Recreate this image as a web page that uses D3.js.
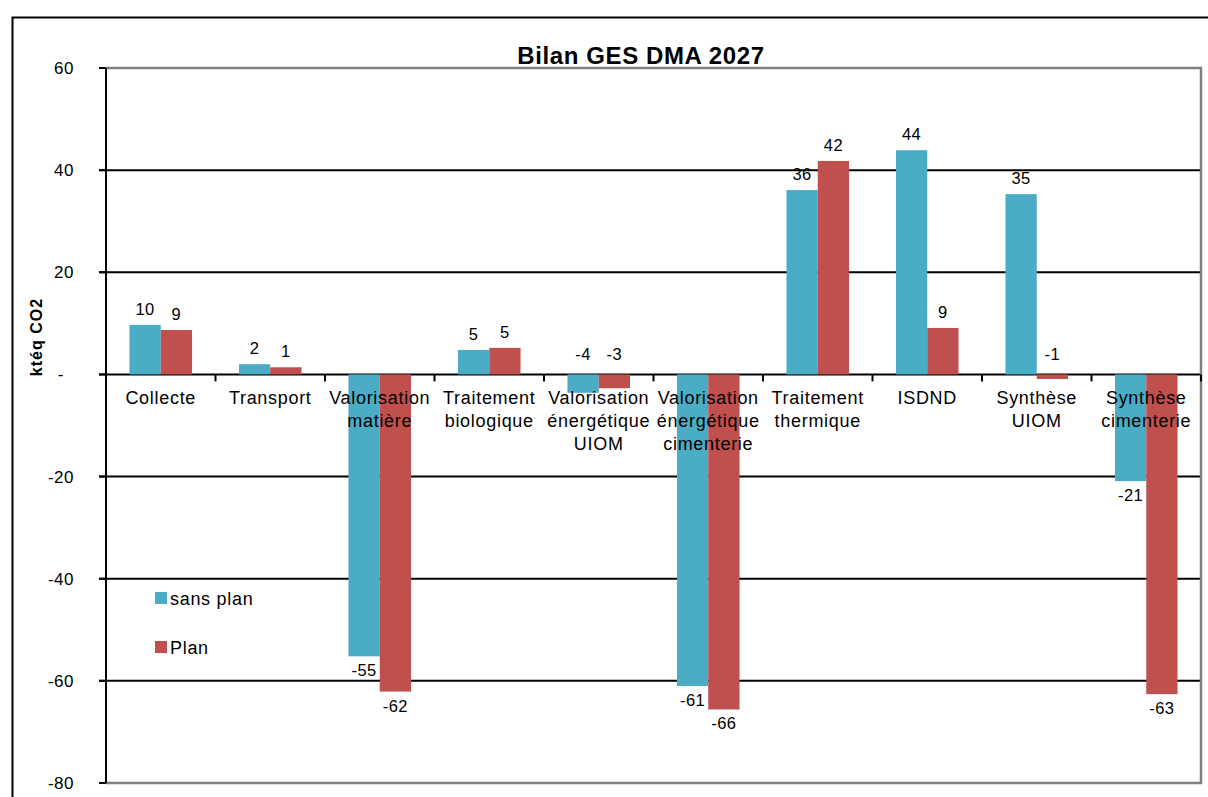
<!DOCTYPE html>
<html>
<head>
<meta charset="utf-8">
<script src="https://cdn.jsdelivr.net/npm/d3@7"></script>
<style>
  body { margin: 0; background: #fff; }
  svg { display: block; font-family: "Liberation Sans", Arial, sans-serif; }
</style>
</head>
<body>
<svg id="chart" width="1208" height="797"></svg>
<script>
// categories (multi-line labels)
const categories = [
  ['Collecte'],
  ['Transport'],
  ['Valorisation', 'matière'],
  ['Traitement', 'biologique'],
  ['Valorisation', 'énergétique', 'UIOM'],
  ['Valorisation', 'énergétique', 'cimenterie'],
  ['Traitement', 'thermique'],
  ['ISDND'],
  ['Synthèse', 'UIOM'],
  ['Synthèse', 'cimenterie']
];
const sansPlan = [9.7, 2.0, -55.2, 4.8, -3.6, -61.0, 36.1, 43.9, 35.3, -20.9];
const plan = [8.7, 1.4, -62.1, 5.2, -2.7, -65.6, 41.8, 9.1, -0.9, -62.6];
const seriesNames = ['sans plan', 'Plan'];
const seriesColors = ['#4BACC6', '#C0504D'];
const yTicks = [60, 40, 20, 0, -20, -40, -60, -80];

const svg = d3.select('#chart');
const plot = {left: 106, right: 1201, top: 68, bottom: 783};

// outer frame
svg.append('rect')
  .attr('x', 12.5).attr('y', 17.5)
  .attr('width', 1300).attr('height', 900)
  .style('fill', 'none')
  .style('stroke', '#000')
  .style('stroke-width', 2);

const y = d3.scaleLinear().domain([-80, 60]).range([plot.bottom, plot.top]);
const x0 = d3.scaleBand().domain(d3.range(categories.length))
  .range([plot.left, plot.right]).paddingInner(0).paddingOuter(0);
// gap width 150% -> bars take 2/3.5 of the band
const barW = x0.bandwidth() / 3.5;
const groupOffset = x0.bandwidth() * 0.75 / 3.5;

// grid lines
svg.append('g')
  .selectAll('line')
  .data(yTicks.filter(d => d > -80 && d < 60))
  .join('line')
  .attr('x1', plot.left - 7).attr('x2', plot.right)
  .attr('y1', d => y(d)).attr('y2', d => y(d))
  .style('stroke', '#000').style('stroke-width', 2);

// plot border top / right / bottom (gray)
svg.append('path')
  .attr('d', `M${plot.left},${y(60)}H${plot.right}V${y(-80)}H${plot.left}`)
  .style('fill', 'none').style('stroke', '#808080').style('stroke-width', 2.5);

// bars
const series = [sansPlan, plan];
series.forEach((vals, s) => {
  svg.append('g')
    .selectAll('rect')
    .data(vals)
    .join('rect')
    .attr('x', (d, i) => x0(i) + groupOffset + s * barW)
    .attr('y', d => y(Math.max(0, d)))
    .attr('width', barW)
    .attr('height', d => Math.abs(y(d) - y(0)))
    .style('fill', seriesColors[s]);
});

// y axis line and ticks
svg.append('line')
  .attr('x1', plot.left).attr('x2', plot.left)
  .attr('y1', y(60)).attr('y2', y(-80))
  .style('stroke', '#000').style('stroke-width', 2);

svg.append('g')
  .selectAll('line')
  .data(yTicks)
  .join('line')
  .attr('x1', plot.left - 7).attr('x2', plot.left)
  .attr('y1', d => y(d)).attr('y2', d => y(d))
  .style('stroke', '#000').style('stroke-width', 2);

svg.append('g')
  .selectAll('text')
  .data(yTicks)
  .join('text')
  .attr('x', d => d === 0 ? 64 : 74)
  .attr('y', d => y(d) + 6)
  .style('text-anchor', 'end')
  .style('font-size', '17px')
  .style('letter-spacing', '0.5px')
  .text(d => d === 0 ? '-' : d);

// x axis (zero line) ticks
svg.append('g')
  .selectAll('line')
  .data(d3.range(categories.length + 1))
  .join('line')
  .attr('x1', i => plot.left + i * x0.bandwidth())
  .attr('x2', i => plot.left + i * x0.bandwidth())
  .attr('y1', y(0)).attr('y2', y(0) + 7)
  .style('stroke', '#000').style('stroke-width', 2);

// category labels
const catG = svg.append('g')
  .selectAll('text')
  .data(categories)
  .join('text')
  .attr('x', (d, i) => x0(i) + x0.bandwidth() / 2)
  .attr('y', y(0) + 30)
  .style('text-anchor', 'middle')
  .style('font-size', '18px')
  .style('letter-spacing', '0.7px');
catG.selectAll('tspan')
  .data(d => d)
  .join('tspan')
  .attr('x', function() { return d3.select(this.parentNode).attr('x'); })
  .attr('dy', (d, i) => i === 0 ? 0 : 23)
  .text(d => d);

// value labels: above bar top for positives, below for large negatives,
// above the zero line for small negatives
series.forEach((vals, s) => {
  svg.append('g')
    .selectAll('text')
    .data(vals)
    .join('text')
    .attr('x', (d, i) => x0(i) + groupOffset + s * barW + barW / 2)
    .attr('y', d => d >= 0 ? y(d) - 10 : (d > -10 ? y(0) - 14 : y(d) + 20))
    .style('text-anchor', 'middle')
    .style('font-size', '16.5px')
    .style('letter-spacing', '0.5px')
    .style('fill', '#000')
    .text(d => Math.round(d));
});

// title
svg.append('text')
  .attr('x', 641).attr('y', 64)
  .style('text-anchor', 'middle')
  .style('font-size', '24px')
  .style('font-weight', 'bold')
  .style('letter-spacing', '0.6px')
  .text('Bilan GES DMA 2027');

// y axis title
svg.append('text')
  .attr('transform', 'translate(42, 337) rotate(-90)')
  .style('text-anchor', 'middle')
  .style('font-size', '16px')
  .style('font-weight', 'bold')
  .style('letter-spacing', '1px')
  .text('ktéq CO2');

// legend
const legend = svg.append('g')
  .selectAll('g')
  .data(seriesNames)
  .join('g')
  .attr('transform', (d, i) => `translate(155, ${592 + i * 49})`);
legend.append('rect')
  .attr('width', 12).attr('height', 12)
  .style('fill', (d, i) => seriesColors[i]);
legend.append('text')
  .attr('x', 15).attr('y', 13)
  .style('font-size', '18px')
  .style('letter-spacing', '0.7px')
  .text(d => d);
</script>
</body>
</html>
